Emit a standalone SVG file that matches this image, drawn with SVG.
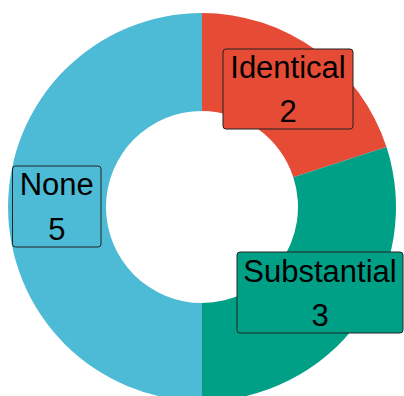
<svg xmlns="http://www.w3.org/2000/svg" width="404" height="396" viewBox="0 0 404 396">
<style>
.lbl{stroke:#222;stroke-width:1}
text{font-family:"Liberation Sans",Arial,sans-serif;font-size:31px;fill:#000;text-anchor:middle}
.red{fill:#E64B35}.green{fill:#00A087}.blue{fill:#4DBBD5}
</style>
<rect width="404" height="396" fill="#fff"/>
<g id="slices">
<path id="slice-identical" class="red" d="M202,13 A194,194 0 0 1 386.505,147.051 L293.301,177.334 A96,96 0 0 0 202,111 Z"/>
<path id="slice-substantial" class="green" d="M386.505,147.051 A194,194 0 0 1 202,401 L202,303 A96,96 0 0 0 293.301,177.334 Z"/>
<path id="slice-none" class="blue" d="M202,401 A194,194 0 0 1 202,13 L202,111 A96,96 0 0 0 202,303 Z"/>
</g>
<g id="label-identical">
<rect class="lbl red" x="223" y="49" width="130" height="80" rx="3"/>
<text x="288" y="77.5">Identical</text>
<text x="288" y="122">2</text>
</g>
<g id="label-none">
<rect class="lbl blue" x="12.5" y="166" width="88.5" height="81" rx="3"/>
<text x="56.75" y="194.5">None</text>
<text x="56.75" y="239.5">5</text>
</g>
<g id="label-substantial">
<rect class="lbl green" x="237" y="252" width="166" height="81" rx="3"/>
<text x="320" y="281.5">Substantial</text>
<text x="320" y="325.5">3</text>
</g>
</svg>
